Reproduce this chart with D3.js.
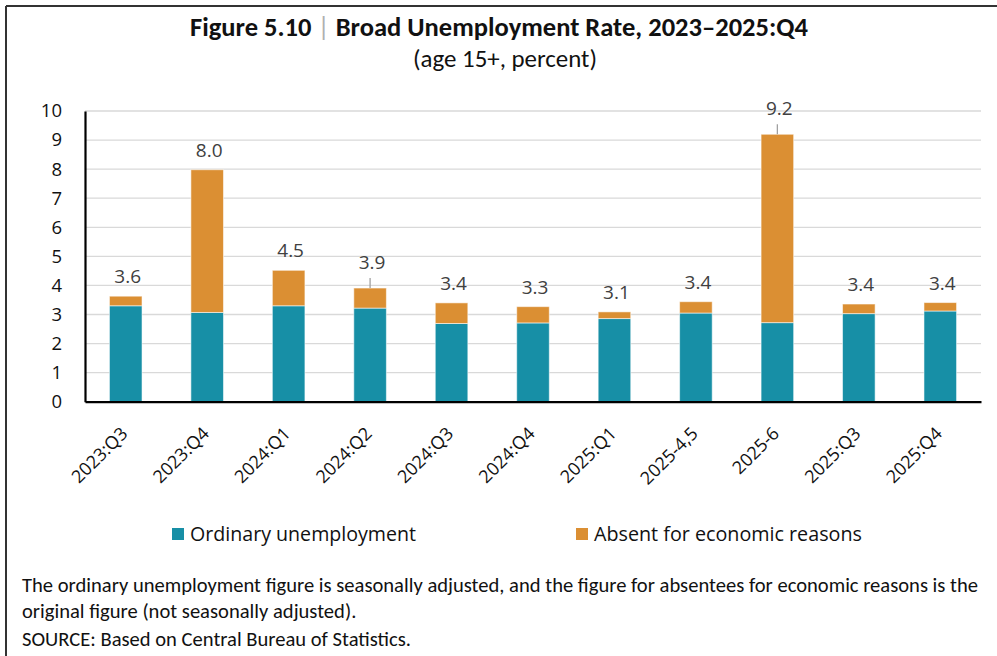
<!DOCTYPE html>
<html>
<head>
<meta charset="utf-8">
<script src="https://cdn.jsdelivr.net/npm/d3@7"></script>
<style>
  html, body { margin: 0; padding: 0; background: #fff; }
  svg { display: block; }
</style>
</head>
<body>
<svg id="chart" width="997" height="656"></svg>
<script>
const categories = ["2023:Q3","2023:Q4","2024:Q1","2024:Q2","2024:Q3","2024:Q4","2025:Q1","2025-4,5","2025-6","2025:Q3","2025:Q4"];
const ordinary = [3.30, 3.07, 3.30, 3.22, 2.69, 2.71, 2.86, 3.05, 2.72, 3.03, 3.12];
const absent   = [0.33, 4.91, 1.22, 0.69, 0.71, 0.56, 0.23, 0.39, 6.48, 0.33, 0.29];
const totalLabels = ["3.6","8.0","4.5","3.9","3.4","3.3","3.1","3.4","9.2","3.4","3.4"];
const leaderLineCategories = ["2024:Q2","2025-6"];
const yTicks = [0,1,2,3,4,5,6,7,8,9,10];
const seriesNames = ["Ordinary unemployment","Absent for economic reasons"];
const titleBold = "Figure 5.10";
const titleRest = "Broad Unemployment Rate, 2023\u20132025:Q4";
const subtitle = "(age 15+, percent)";
const footnoteLines = [
  "The ordinary unemployment figure is seasonally adjusted, and the figure for absentees for economic reasons is the",
  "original figure (not seasonally adjusted).",
  "SOURCE: Based on Central Bureau of Statistics."
];

const colors = { ordinary: "#178fa6", absent: "#db8f33" };
const svg = d3.select("#chart");
const W = 997, H = 656;
const plot = { left: 85, right: 981, top: 111, bottom: 401.7 };
const calibri = "Calibri, Carlito, Lato, 'Noto Sans', sans-serif";
const segoe = "'Segoe UI', 'Open Sans', 'Noto Sans', sans-serif";

// outer frame (top and left edges visible)
svg.append("line").attr("x1", 6).attr("x2", W).attr("y1", 6).attr("y2", 6)
  .attr("stroke", "#333").attr("stroke-width", 2);
svg.append("line").attr("x1", 6).attr("x2", 6).attr("y1", 6).attr("y2", H)
  .attr("stroke", "#333").attr("stroke-width", 2);

function fit(sel, width) {
  const n = sel.node();
  const fs = parseFloat(sel.attr("font-size"));
  const len = n.getComputedTextLength();
  sel.attr("font-size", (fs * width / len).toFixed(2));
}

// Title
const title = svg.append("text").attr("x", 499).attr("y", 36)
  .attr("text-anchor", "middle").attr("font-family", calibri)
  .attr("font-weight", "bold").attr("font-size", 22).attr("fill", "#111");
title.append("tspan").text(titleBold);
title.append("tspan").attr("fill", "#b0b0b0").attr("font-weight", "normal").text(" | ");
title.append("tspan").text(titleRest);
fit(title, 618);

const sub = svg.append("text").attr("x", 505).attr("y", 67)
  .attr("text-anchor", "middle").attr("font-family", calibri)
  .attr("font-size", 20).attr("fill", "#111").text(subtitle);
fit(sub, 184);

// scales
const x = d3.scaleBand().domain(categories).range([plot.left, plot.right])
  .paddingInner(0.6).paddingOuter(0.3);
const y = d3.scaleLinear().domain([0, 10]).range([plot.bottom, plot.top]);

// gridlines
svg.append("g").selectAll("line").data(yTicks.filter(d => d > 0)).join("line")
  .attr("x1", plot.left).attr("x2", plot.right)
  .attr("y1", d => y(d)).attr("y2", d => y(d))
  .attr("stroke", "#d9d9d9").attr("stroke-width", 1.3);

// y axis
const yAxis = svg.append("g").attr("transform", `translate(${plot.left},0)`)
  .call(d3.axisLeft(y).tickValues(yTicks).tickSize(0).tickPadding(23).tickFormat(d3.format("d")));
yAxis.select(".domain").attr("stroke", "#000").attr("stroke-width", 2.2);
yAxis.selectAll("text").attr("font-family", segoe).attr("font-size", 18.5).attr("fill", "#111");

// stacked bars
const data = categories.map((c, i) => ({ cat: c, ordinary: ordinary[i], absent: absent[i], label: totalLabels[i] }));
const stack = d3.stack().keys(["ordinary", "absent"])(data);
svg.append("g").selectAll("g").data(stack).join("g")
  .attr("fill", d => colors[d.key])
  .selectAll("rect").data(d => d).join("rect")
  .attr("x", d => x(d.data.cat))
  .attr("width", x.bandwidth())
  .attr("y", d => y(d[1]))
  .attr("height", d => y(d[0]) - y(d[1]))
  .attr("stroke", "rgba(255,255,255,0.55)").attr("stroke-width", 1);

// x axis
const xAxis = svg.append("g").attr("transform", `translate(0,${plot.bottom})`)
  .call(d3.axisBottom(x).tickSize(0).tickPadding(0));
xAxis.select(".domain").attr("stroke", "#000").attr("stroke-width", 2.2);
xAxis.selectAll(".tick text")
  .attr("font-family", segoe).attr("font-size", 18).attr("fill", "#111")
  .attr("text-anchor", "end").attr("dy", 0).attr("y", 0)
  .attr("transform", "translate(3,33) rotate(-45)");

// total labels and leader lines
const tops = data.map(d => ({ cat: d.cat, label: d.label, top: d.ordinary + d.absent, leader: leaderLineCategories.includes(d.cat) }));
const lg = svg.append("g");
lg.selectAll("line").data(tops.filter(d => d.leader)).join("line")
  .attr("x1", d => x(d.cat) + x.bandwidth() / 2).attr("x2", d => x(d.cat) + x.bandwidth() / 2)
  .attr("y1", d => y(d.top) - 10).attr("y2", d => y(d.top))
  .attr("stroke", "#a0a0a0").attr("stroke-width", 1.3);
lg.selectAll("text").data(tops).join("text")
  .attr("x", d => x(d.cat) + x.bandwidth() / 2 + 2)
  .attr("y", d => y(d.top) - (d.leader ? 19 : 13))
  .attr("text-anchor", "middle").attr("font-family", segoe).attr("font-size", 19)
  .attr("fill", "#404040").text(d => d.label);

// legend
const legendItems = [
  { name: seriesNames[0], color: colors.ordinary, x: 172, w: 226 },
  { name: seriesNames[1], color: colors.absent, x: 576, w: 268 }
];
legendItems.forEach(it => {
  svg.append("rect").attr("x", it.x).attr("y", 528).attr("width", 12).attr("height", 12).attr("fill", it.color);
  const t = svg.append("text").attr("x", it.x + 18).attr("y", 540.5)
    .attr("font-family", segoe).attr("font-size", 18).attr("fill", "#111").text(it.name);
  fit(t, it.w);
});

// footnotes
const fy = [592, 618, 646];
let fsz = null;
footnoteLines.forEach((line, i) => {
  const t = svg.append("text").attr("x", 22).attr("y", fy[i])
    .attr("font-family", calibri).attr("font-size", 16).attr("fill", "#111").text(line);
  if (i === 0) { fit(t, 956); fsz = t.attr("font-size"); }
  else t.attr("font-size", fsz);
});
</script>
</body>
</html>
